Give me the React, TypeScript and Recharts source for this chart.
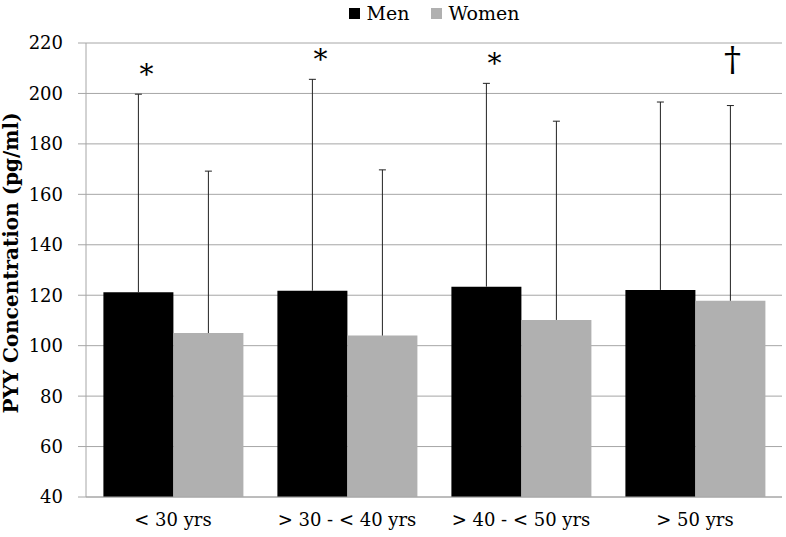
import React from 'react';
import { BarChart, Bar, XAxis, YAxis, CartesianGrid, Legend, LabelList, Label } from 'recharts';

const categories = ['< 30 yrs', '> 30 - < 40 yrs', '> 40 - < 50 yrs', '> 50 yrs'];
const menMean = [121.2, 121.8, 123.4, 122.1];
const womenMean = [105, 104, 110.2, 117.8];
const menSD = [78.5, 83.8, 80.6, 74.5];
const womenSD = [64.2, 65.7, 78.8, 77.4];
const menMarks = ['*', '*', '*', ''];
const womenMarks = ['', '', '', '†'];
const yTicks = [40, 60, 80, 100, 120, 140, 160, 180, 200, 220];

const data = categories.map((name, i) => ({
    name,
    men: menMean[i],
    menErr: menSD[i],
    menMark: menMarks[i],
    women: womenMean[i],
    womenErr: womenSD[i],
    womenMark: womenMarks[i],
}));

const FONT = 'DejaVu Serif';
const GRID = '#a6a6a6';

// upper-only whisker drawn in the stacked segment above each bar
const Whisker = (props: any) => {
    const { x, y, width, height } = props;
    const cx = x + width / 2;
    return (
        <g>
            <line x1={cx} x2={cx} y1={y + height} y2={y} stroke="#222" strokeWidth={1} />
            <line x1={cx - 3.5} x2={cx + 3.5} y1={y} y2={y} stroke="#222" strokeWidth={1} />
        </g>
    );
};

const Mark = (props: any) => {
    const { x, y, width, value } = props;
    if (!value) return null;
    const cx = x + width / 2;
    if (value === '*') {
        return <text x={cx + 8} y={y - 10} textAnchor="middle" fontSize={28} fontFamily={FONT} fill="#000">{value}</text>;
    }
    return <text x={cx + 2} y={y - 35} textAnchor="middle" fontSize={34} fontFamily={FONT} fill="#000">{value}</text>;
};

const LegendBox = () => (
    <div style={{ height: 26, display: 'flex', justifyContent: 'center', alignItems: 'center', fontFamily: FONT, fontSize: 19, color: '#000' }}>
        <span style={{ display: 'inline-block', width: 11, height: 11, background: '#000', marginRight: 6 }} />
        <span style={{ marginRight: 22 }}>Men</span>
        <span style={{ display: 'inline-block', width: 11, height: 11, background: '#b0b0b0', marginRight: 6 }} />
        <span>Women</span>
    </div>
);

const YLabel = (props: any) => {
    const { viewBox } = props;
    const cy = viewBox.y + viewBox.height / 2 - 7;
    return (
        <text x={18} y={cy} transform={`rotate(-90, 18, ${cy})`} textAnchor="middle" fontSize={20} fontWeight="bold" fontFamily={FONT} fill="#000">
            PYY Concentration (pg/ml)
        </text>
    );
};

const tickStyle = { fontFamily: FONT, fontSize: 18, fill: '#000' };

export default function App() {
    return (
        <div style={{ position: 'absolute', left: 0, top: 0, background: '#fff' }}>
            <BarChart width={786} height={537} data={data} margin={{ top: 17, right: 4, bottom: 0, left: 0 }} barCategoryGap="10%" barGap={0}>
                <CartesianGrid vertical={false} stroke={GRID} />
                <XAxis
                    dataKey="name"
                    tickLine={false}
                    axisLine={{ stroke: GRID }}
                    tickSize={0}
                    tickMargin={16}
                    height={40}
                    tick={tickStyle}
                />
                <YAxis
                    domain={[40, 220]}
                    ticks={yTicks}
                    allowDataOverflow
                    width={86}
                    tickSize={8}
                    tickMargin={15}
                    axisLine={{ stroke: GRID }}
                    tickLine={{ stroke: GRID }}
                    tick={tickStyle}
                >
                    <Label content={<YLabel />} />
                </YAxis>
                <Legend verticalAlign="top" wrapperStyle={{ top: 0, left: 86, width: 697 }} content={<LegendBox />} />
                <Bar dataKey="men" name="Men" stackId="m" fill="#000" isAnimationActive={false} />
                <Bar dataKey="menErr" stackId="m" legendType="none" shape={<Whisker />} isAnimationActive={false}>
                    <LabelList dataKey="menMark" content={<Mark />} />
                </Bar>
                <Bar dataKey="women" name="Women" stackId="w" fill="#b0b0b0" isAnimationActive={false} />
                <Bar dataKey="womenErr" stackId="w" legendType="none" shape={<Whisker />} isAnimationActive={false}>
                    <LabelList dataKey="womenMark" content={<Mark />} />
                </Bar>
            </BarChart>
        </div>
    );
}
